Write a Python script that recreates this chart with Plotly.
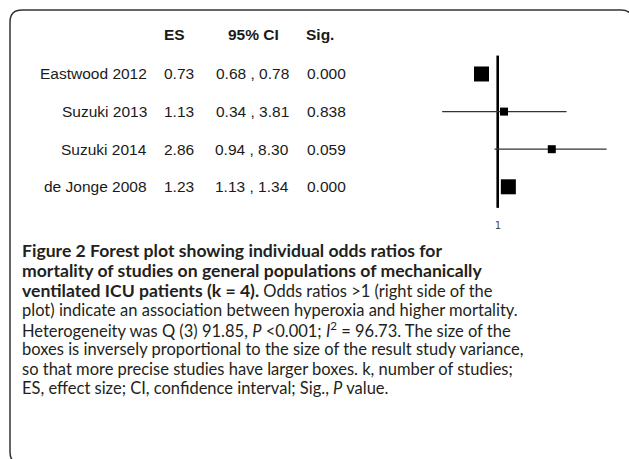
import plotly.graph_objects as go

# ---------------- data ----------------
studies = ["Eastwood 2012", "Suzuki 2013", "Suzuki 2014", "de Jonge 2008"]
es = [0.73, 1.13, 2.86, 1.23]
ci_low = [0.68, 0.34, 0.94, 1.13]
ci_high = [0.78, 3.81, 8.30, 1.34]
sig = ["0.000", "0.838", "0.059", "0.000"]
headers = ["ES", "95% CI", "Sig."]
x_tick_vals = [1]
x_tick_text = ["1"]

BS = '<span style="font-size:17.6px"><b>'
BE = '</b></span>'
caption_lines = [
    BS + "Figure 2 Forest plot showing individual odds ratios for" + BE,
    BS + "mortality of studies on general populations of mechanically" + BE,
    BS + "ventilated ICU patients (k = 4)." + BE + " Odds ratios &gt;1 (right side of the",
    "plot) indicate an association between hyperoxia and higher mortality.",
    "Heterogeneity was Q (3) 91.85, <i>P</i> &lt;0.001; <i>I</i><sup>2</sup> = 96.73. The size of the",
    "boxes is inversely proportional to the size of the result study variance,",
    "so that more precise studies have larger boxes. k, number of studies;",
    "ES, effect size; CI, confidence interval; Sig., <i>P</i> value.",
]

# ---------------- layout / style ----------------
W, H = 629, 459
PL, PR, PT, PB = 420, 620, 30, 215   # plot area in pixels
BOX_SIZE = [15, 8, 8, 15]
TABLE_FONT = "Liberation Sans, Arial, sans-serif"
CAP_FONT = "Lato, sans-serif"


def pxx(px):
    return (px - PL) / (PR - PL)


def pxy(py):
    return (PB - py) / (PB - PT)


n = len(studies)
rows = [n - i for i in range(n)]  # 4,3,2,1 top to bottom

fig = go.Figure()

# CI lines
for i in range(n):
    fig.add_trace(go.Scatter(
        x=[ci_low[i], ci_high[i]], y=[rows[i], rows[i]], mode="lines",
        line=dict(color="#333333", width=1.3), hoverinfo="skip", showlegend=False))

# boxes
fig.add_trace(go.Scatter(
    x=es, y=rows, mode="markers",
    marker=dict(symbol="square", size=BOX_SIZE, color="black", opacity=1,
                line=dict(width=0)),
    showlegend=False))

# reference line at 1
fig.add_shape(type="line", xref="x", yref="y", x0=1, x1=1, y0=0.44, y1=4.49,
              line=dict(color="black", width=2.6), layer="below")

ann = []
hdr_y = 5.04
ann.append(dict(x=pxx(162), y=hdr_y, text="<b>%s</b>" % headers[0], xanchor="left"))
ann.append(dict(x=pxx(253), y=hdr_y, text="<b>%s</b>" % headers[1], xanchor="center"))
ann.append(dict(x=pxx(304), y=hdr_y, text="<b>%s</b>" % headers[2], xanchor="left"))
for i in range(n):
    ann.append(dict(x=pxx(149), y=rows[i], text=studies[i], xanchor="right"))
    ann.append(dict(x=pxx(162), y=rows[i], text="%.2f" % es[i], xanchor="left"))
    ann.append(dict(x=pxx(252), y=rows[i], text="%.2f , %.2f" % (ci_low[i], ci_high[i]), xanchor="center"))
    ann.append(dict(x=pxx(305), y=rows[i], text=sig[i], xanchor="left"))
for a in ann:
    a.update(xref="paper", yref="y", yanchor="middle", showarrow=False,
             font=dict(family=TABLE_FONT, size=15.5, color="#1a1a1a"))

cap_y = [250, 270, 290, 310, 329.5, 349, 368.5, 387.5]
for t, yy in zip(caption_lines, cap_y):
    ann.append(dict(x=pxx(20), y=pxy(yy), xref="paper", yref="paper", text=t,
                    xanchor="left", yanchor="middle", showarrow=False,
                    font=dict(family=CAP_FONT, size=16.5, color="#231f20")))

# rounded border
x0, x1, y0, y1, r = 10, 633, 10, 464, 12
path = (f"M {pxx(x0)},{pxy(y0 + r)} Q {pxx(x0)},{pxy(y0)} {pxx(x0 + r)},{pxy(y0)} "
        f"L {pxx(x1 - r)},{pxy(y0)} Q {pxx(x1)},{pxy(y0)} {pxx(x1)},{pxy(y0 + r)} "
        f"L {pxx(x1)},{pxy(y1 - r)} Q {pxx(x1)},{pxy(y1)} {pxx(x1 - r)},{pxy(y1)} "
        f"L {pxx(x0 + r)},{pxy(y1)} Q {pxx(x0)},{pxy(y1)} {pxx(x0)},{pxy(y1 - r)} Z")
fig.add_shape(type="path", xref="paper", yref="paper", path=path,
              line=dict(color="#333333", width=1.5), fillcolor="rgba(0,0,0,0)")

fig.update_layout(
    width=W, height=H, autosize=False,
    margin=dict(l=PL, r=W - PR, t=PT, b=H - PB, pad=0),
    paper_bgcolor="white", plot_bgcolor="white",
    annotations=ann, showlegend=False,
    xaxis=dict(type="log", range=[(PL - 497.7) / 118.5, (PR - 497.7) / 118.5],
               tickvals=x_tick_vals, ticktext=x_tick_text, ticks="",
               ticklabelstandoff=3,
               showgrid=False, zeroline=False, showline=False,
               tickfont=dict(family="DejaVu Sans Mono, monospace", size=10, color="#444444")),
    yaxis=dict(range=[0.25, 5.17], visible=False, showgrid=False, zeroline=False),
)

fig.write_html("out.html", config={"displayModeBar": False},
               post_script="document.body.style.margin='0';document.body.style.overflow='hidden';")
